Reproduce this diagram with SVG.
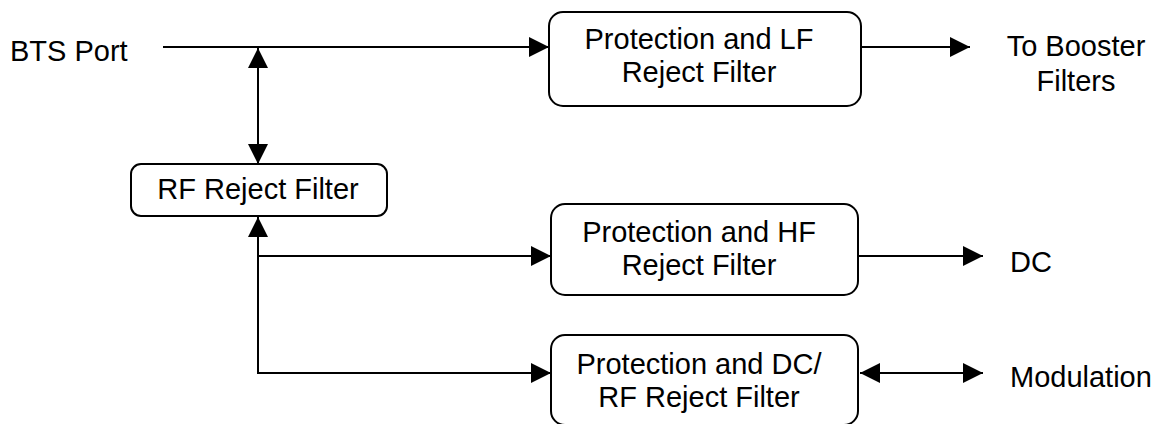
<svg xmlns="http://www.w3.org/2000/svg" width="1158" height="424" viewBox="0 0 1158 424">
  <style>
    .box { fill: #ffffff; stroke: #000000; stroke-width: 2; }
    .lbl { font-family: "Liberation Sans", Arial, sans-serif; font-size: 29px; fill: #000000; }
    .mid { text-anchor: middle; }
    .wire { fill: none; stroke: #000000; stroke-width: 2; }
    .one { marker-end: url(#arr); }
    .two { marker-start: url(#arr); marker-end: url(#arr); }
  </style>
  <defs>
    <marker id="arr" markerUnits="userSpaceOnUse" markerWidth="20" markerHeight="20" viewBox="0 0 20 20" refX="20" refY="10" orient="auto-start-reverse">
      <path d="M0,0 L20,10 L0,20 Z" fill="#000000"/>
    </marker>
  </defs>
  <rect width="1158" height="424" fill="#ffffff"/>

  <g id="connectors">
    <path class="wire one" d="M163,47 H549"/>
    <path class="wire two" d="M258,48 V164"/>
    <path class="wire one" d="M861,47 H970"/>
    <path class="wire two" d="M258,217 V373 H551"/>
    <path class="wire one" d="M258,256 H551"/>
    <path class="wire one" d="M858,256 H983"/>
    <path class="wire two" d="M860,373 H983"/>
  </g>

  <g id="bts-port">
    <text class="lbl" x="10" y="61">BTS Port</text>
  </g>

  <g id="lf-filter">
    <rect class="box" x="549" y="12" width="312" height="94" rx="14" ry="14"/>
    <text class="lbl mid" x="699" y="49">Protection and LF</text>
    <text class="lbl mid" x="699" y="82">Reject Filter</text>
  </g>

  <g id="to-booster">
    <text class="lbl mid" x="1076" y="56">To Booster</text>
    <text class="lbl mid" x="1076" y="91">Filters</text>
  </g>

  <g id="rf-filter">
    <rect class="box" x="131" y="164" width="256" height="52" rx="10" ry="10"/>
    <text class="lbl mid" x="258" y="199">RF Reject Filter</text>
  </g>

  <g id="hf-filter">
    <rect class="box" x="551" y="204" width="307" height="91" rx="14" ry="14"/>
    <text class="lbl mid" x="699" y="242">Protection and HF</text>
    <text class="lbl mid" x="699" y="275">Reject Filter</text>
  </g>

  <g id="dc">
    <text class="lbl" x="1010" y="272">DC</text>
  </g>

  <g id="dcrf-filter">
    <rect class="box" x="551" y="335" width="307" height="90" rx="14" ry="14"/>
    <text class="lbl mid" x="699" y="374">Protection and DC/</text>
    <text class="lbl mid" x="699" y="407">RF Reject Filter</text>
  </g>

  <g id="modulation">
    <text class="lbl" x="1010" y="387">Modulation</text>
  </g>
</svg>
